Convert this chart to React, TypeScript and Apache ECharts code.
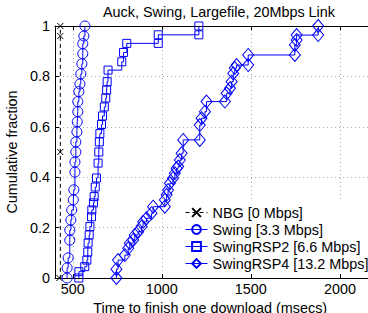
import React, { useEffect, useRef } from "react";
import * as echarts from "echarts";

const FONT = "Liberation Sans, Arial, Helvetica, sans-serif";
const FS = 14.4;

const titleText = "Auck, Swing, Largefile, 20Mbps Link";
const xAxisName = "Time to finish one download (msecs)";
const yAxisName = "Cumulative fraction";

const seriesNames = [
  "NBG [0 Mbps]",
  "Swing [3.3 Mbps]",
  "SwingRSP2 [6.6 Mbps]",
  "SwingRSP4 [13.2 Mbps]",
];

const xTicks = [500, 1000, 1500, 2000];

const nbgX = [425, 430, 430, 430];
const nbgY = [0, 0.5, 0.96, 1.0];

const swingX = [468, 468, 474, 483, 483, 489, 494, 503, 506, 512, 512, 517, 517, 523, 525, 528, 528, 534, 540, 545, 551, 556, 556, 562, 568];
const swingY = [0, 0.04, 0.08, 0.15, 0.19, 0.23, 0.27, 0.31, 0.35, 0.42, 0.46, 0.5, 0.54, 0.58, 0.62, 0.66, 0.7, 0.74, 0.77, 0.81, 0.85, 0.89, 0.93, 0.96, 1.0];

const rsp2X = [534, 534, 567, 579, 584, 586, 592, 596, 605, 607, 616, 620, 626, 633, 642, 646, 649, 652, 661, 667, 677, 685, 690, 693, 698, 775, 785, 803, 980, 980, 1208, 1208];
const rsp2Y = [0, 0.025, 0.045, 0.071, 0.103, 0.139, 0.171, 0.204, 0.243, 0.27, 0.298, 0.323, 0.361, 0.397, 0.456, 0.5, 0.54, 0.573, 0.609, 0.643, 0.679, 0.714, 0.746, 0.779, 0.825, 0.858, 0.895, 0.931, 0.931, 0.965, 0.965, 1.0];

const rsp4X = [745, 745, 754, 792, 811, 820, 839, 848, 867, 886, 895, 914, 942, 951, 1017, 1017, 1027, 1035, 1045, 1063, 1073, 1083, 1092, 1101, 1111, 1120, 1213, 1213, 1223, 1242, 1251, 1354, 1364, 1383, 1392, 1401, 1410, 1420, 1485, 1485, 1747, 1747, 1757, 1757, 1878, 1878];
const rsp4Y = [0, 0.035, 0.071, 0.091, 0.118, 0.138, 0.151, 0.171, 0.184, 0.204, 0.223, 0.237, 0.257, 0.283, 0.283, 0.31, 0.33, 0.349, 0.376, 0.396, 0.416, 0.435, 0.442, 0.468, 0.495, 0.548, 0.548, 0.607, 0.634, 0.66, 0.7, 0.7, 0.733, 0.753, 0.779, 0.812, 0.833, 0.845, 0.845, 0.885, 0.885, 0.925, 0.944, 0.964, 0.964, 1.0];

const zip = (xs: number[], ys: number[]) => xs.map((x, i) => [x, ys[i]]);

const BLUE = "#0000ff";

export default function App() {
  const ref = useRef<HTMLDivElement>(null);
  useEffect(() => {
    if (!ref.current) return;
    const chart = echarts.init(ref.current, undefined, { renderer: "svg", width: 368, height: 313 });
    const hollow = (c: string) => ({ color: "rgba(0,0,0,0)", borderColor: c, borderWidth: 1 });
    const common = {
      type: "line" as const,
      step: "end" as const,
      showSymbol: true,
      showAllSymbol: true,
      clip: false,
      color: BLUE,
    };
    const txt = { fontFamily: FONT, fontSize: FS, color: "#000" };
    chart.setOption({
      animation: false,
      backgroundColor: "#fff",
      textStyle: { fontFamily: FONT },
      title: {
        text: titleText,
        left: 214,
        textAlign: "center",
        top: 0,
        textStyle: { ...txt, fontWeight: "normal" },
      },
      grid: {
        left: 55,
        top: 26,
        width: 320.5,
        height: 252,
        containLabel: false,
        outerBoundsMode: "none",
      },
      legend: {
        data: seriesNames,
        orient: "vertical",
        left: 180,
        top: 202,
        itemWidth: 22,
        itemHeight: 11,
        itemGap: 2,
        padding: [3, 5, 3, 5],
        backgroundColor: "#fff",
        lineStyle: { width: 1 },
        textStyle: { ...txt, lineHeight: 15 },
      },
      xAxis: [
        {
          type: "value",
          min: 400,
          max: 2200,
          position: "bottom",
          name: xAxisName,
          nameLocation: "middle",
          nameGap: 14,
          nameTextStyle: { ...txt, lineHeight: 14, padding: [0, 0, 0, -10] },
          axisLine: { show: true, onZero: false, lineStyle: { color: "#000", width: 1 } },
          axisTick: { show: true, inside: true, length: 4, customValues: xTicks, lineStyle: { color: "#000" } },
          axisLabel: { customValues: xTicks, ...txt, margin: 4, formatter: (v: number) => String(v) },
          splitLine: { show: true, lineStyle: { color: "#aaa", type: [1, 3], width: 1 } },
        },
        {
          type: "value",
          min: 400,
          max: 2200,
          position: "top",
          axisLine: { show: true, onZero: false, lineStyle: { color: "#000", width: 1 } },
          axisTick: { show: true, inside: true, length: 4, customValues: xTicks, lineStyle: { color: "#000" } },
          axisLabel: { show: false, customValues: xTicks },
          splitLine: { show: false },
        },
      ],
      yAxis: {
        type: "value",
        min: 0,
        max: 1,
        interval: 0.2,
        name: yAxisName,
        nameLocation: "middle",
        nameGap: 28,
        nameTextStyle: txt,
        axisLine: { show: true, onZero: false, lineStyle: { color: "#000", width: 1 } },
        axisTick: { show: true, inside: true, length: 4, lineStyle: { color: "#000" } },
        axisLabel: {
          ...txt,
          margin: 5,
          formatter: (v: number) => String(parseFloat(v.toFixed(1))),
        },
        splitLine: { show: true, lineStyle: { color: "#aaa", type: [1, 3], width: 1 } },
      },
      series: [
        {
          ...common,
          name: seriesNames[0],
          color: "#000",
          data: zip(nbgX, nbgY),
          symbol: "path://M0,0L10,10M10,0L0,10",
          symbolSize: 6,
          lineStyle: { color: "#000", width: 1, type: [4, 3] },
          itemStyle: { color: "rgba(0,0,0,0)", borderColor: "#000", borderWidth: 1 },
        },
        {
          ...common,
          name: seriesNames[1],
          data: zip(swingX, swingY),
          symbol: "circle",
          symbolSize: 10,
          lineStyle: { color: BLUE, width: 1 },
          itemStyle: hollow(BLUE),
        },
        {
          ...common,
          name: seriesNames[2],
          data: zip(rsp2X, rsp2Y),
          symbol: "rect",
          symbolSize: 8,
          lineStyle: { color: BLUE, width: 1 },
          itemStyle: hollow(BLUE),
        },
        {
          ...common,
          name: seriesNames[3],
          data: zip(rsp4X, rsp4Y),
          symbol: "diamond",
          symbolSize: [11, 13],
          lineStyle: { color: BLUE, width: 1 },
          itemStyle: hollow(BLUE),
        },
      ],
    });
    return () => chart.dispose();
  }, []);
  return (
    <div
      ref={ref}
      style={{ position: "fixed", left: 0, top: 0, width: 368, height: 313, background: "#fff" }}
    />
  );
}
